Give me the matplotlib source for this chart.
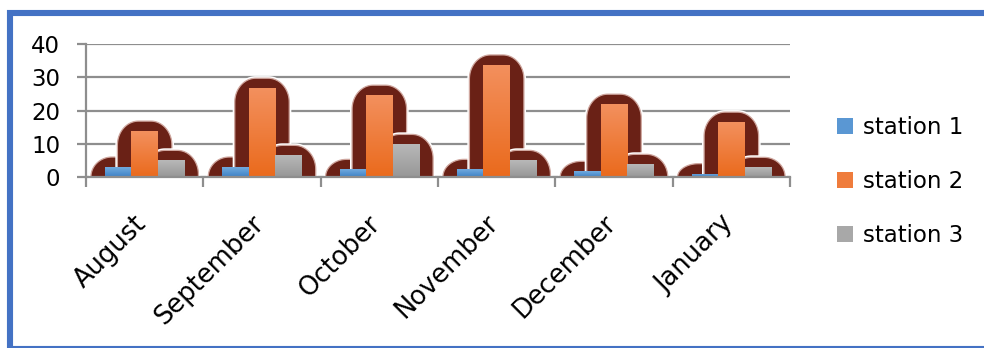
import matplotlib
matplotlib.use("Agg")
import matplotlib.pyplot as plt
import numpy as np
from matplotlib.patches import Polygon, Rectangle
from matplotlib.colors import LinearSegmentedColormap
from matplotlib.ticker import FixedLocator, NullFormatter
import matplotlib.transforms as mtransforms

plt.rcParams['font.family'] = ['DejaVu Sans']

months = ["August", "September", "October", "November", "December", "January"]
series_names = ["station 1", "station 2", "station 3"]
station1 = [3.0, 3.0, 2.3, 2.3, 1.7, 1.0]
station2 = [13.8, 26.7, 24.6, 33.7, 21.9, 16.5]
station3 = [5.0, 6.5, 9.8, 5.0, 3.8, 2.9]
y_ticks = [0, 10, 20, 30, 40]

# gradient colours (top, bottom) for each series
grad_colors = [("#72aade", "#3d82c6"), ("#f3905e", "#ea6a1c"), ("#b8b8b8", "#979797")]
mid_colors = ["#5a97d3", "#ef7c3c", "#a8a8a8"]
shadow_color = "#6a2116"
grid_color = "#8e8e8e"
FS = 16.5
FS_X = 18.5

W, H, DPI = 984, 348, 100
fig = plt.figure(figsize=(W / DPI, H / DPI), dpi=DPI)

ax_left, ax_right, ax_top, ax_bottom = 86, 790, 44, 177
ax = fig.add_axes([ax_left / W, (H - ax_bottom) / H,
                   (ax_right - ax_left) / W, (ax_bottom - ax_top) / H])

n = len(months)
ax.set_xlim(-0.5, n - 0.5)
ax.set_ylim(0, 40)

px_x = n / (ax_right - ax_left)      # x data units per pixel
px_y = 40 / (ax_bottom - ax_top)     # y data units per pixel

bar_w = 26.5 * px_x
x = np.arange(n)
all_values = [station1, station2, station3]

bars = []
for k, vals in enumerate(all_values):
    b = ax.bar(x + (k - 1) * bar_w, vals, width=bar_w, color=mid_colors[k],
               zorder=4, label=series_names[k], linewidth=0)
    bars.append(b)


def rounded_top(x0, x1, ytop, ybot, rx, ry, steps=24):
    """Outline of a box with rounded upper corners, in data units."""
    t = np.linspace(0, np.pi / 2, steps)
    left = np.column_stack([x0 + rx - rx * np.cos(t), ytop - ry + ry * np.sin(t)])
    right = np.column_stack([x1 - rx + rx * np.sin(t), ytop - ry * (1 - np.cos(t))])
    pts = np.vstack([[x0, ybot], left, right, [x1, ybot]])
    return pts


# rounded dark glow behind each bar, with a thin white halo
pad_x = 14 * px_x
pad_top = 10 * px_y
rx = 21 * px_x
order = 0
for i in range(n):
    for k, vals in enumerate(all_values):
        rect = bars[k].patches[i]
        x0 = rect.get_x() - pad_x
        x1 = rect.get_x() + rect.get_width() + pad_x
        ytop = vals[i] + pad_top
        ry = min(24 * px_y, ytop)
        pts = rounded_top(x0, x1, ytop, -3, rx, ry)
        z = 2 + 0.01 * order
        ax.add_patch(Polygon(pts, closed=True, facecolor="white", edgecolor="white",
                             linewidth=3.0, zorder=z))
        ax.add_patch(Polygon(pts, closed=True, facecolor=shadow_color, edgecolor="#cfa69e",
                             linewidth=0.9, zorder=z + 0.001))
        order += 1

# vertical gradient fill for bars
grad = np.linspace(0, 1, 256).reshape(-1, 1)
for k in range(3):
    cmap = LinearSegmentedColormap.from_list(f"g{k}", [grad_colors[k][1], grad_colors[k][0]])
    for rect in bars[k].patches:
        bx, bw, bh = rect.get_x(), rect.get_width(), rect.get_height()
        im = ax.imshow(grad, extent=[bx, bx + bw, 0, bh], origin="lower",
                       cmap=cmap, aspect="auto", zorder=4.5, interpolation="bilinear")
        im.set_clip_path(rect)

ax.set_xlim(-0.5, n - 0.5)
ax.set_ylim(0, 40)

# axes styling
for s in ["top", "right"]:
    ax.spines[s].set_visible(False)
for s in ["left", "bottom"]:
    ax.spines[s].set_color(grid_color)
    ax.spines[s].set_linewidth(1.6)
    ax.spines[s].set_zorder(6)

ax.set_yticks(y_ticks)
ax.yaxis.grid(True, color=grid_color, linewidth=1.6, zorder=0)
ax.set_axisbelow(True)
ax.tick_params(axis="y", length=6.5, width=1.6, color=grid_color, pad=12,
               labelsize=FS, labelcolor="black")

ax.set_xticks(x)
ax.set_xticklabels(months, rotation=45, ha="right", va="top", fontsize=FS_X)
ax.tick_params(axis="x", which="major", length=0, pad=24)
ax.xaxis.set_minor_locator(FixedLocator(np.arange(-0.5, n, 1.0)))
ax.xaxis.set_minor_formatter(NullFormatter())
ax.tick_params(axis="x", which="minor", length=7.5, width=1.6, color=grid_color)
offset = mtransforms.ScaledTranslation(7 / DPI, 0, fig.dpi_scale_trans)
for lbl in ax.get_xticklabels():
    lbl.set_transform(lbl.get_transform() + offset)

leg = fig.legend(handles=bars, labels=series_names, loc="upper left",
                 bbox_to_anchor=(837 / W, (H - 116) / H), frameon=False,
                 fontsize=FS, handlelength=0.7, handleheight=0.7,
                 handletextpad=0.45, labelspacing=1.35, borderpad=0,
                 borderaxespad=0)

# blue frame around the chart
fig.add_artist(Rectangle((10 / W, -0.5 / H), 1010 / W, 335.5 / H, transform=fig.transFigure,
                         fill=False, edgecolor="#4472c4", linewidth=4.4, clip_on=False))

fig.savefig("out.png", dpi=DPI)
